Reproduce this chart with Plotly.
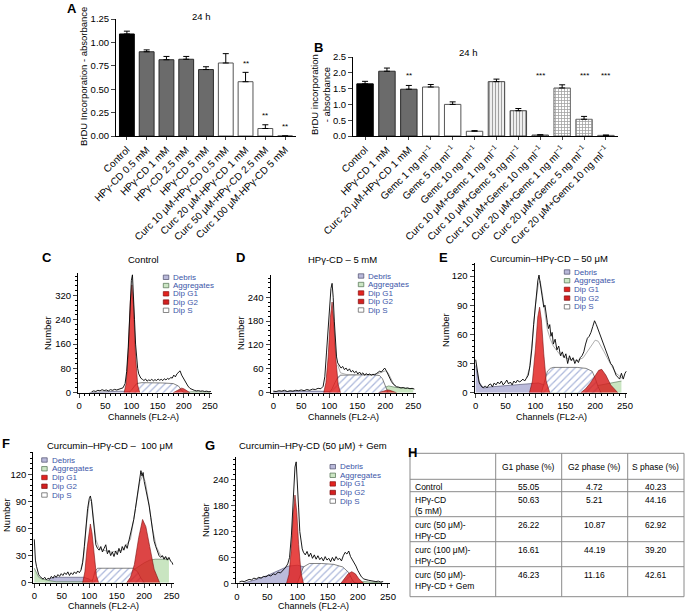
import plotly.graph_objects as go

W, H = 685, 613
FONT = "Liberation Sans"

# ---------------- panel A ----------------
a_labels = ["Control", "HPγ-CD 0.5 mM", "HPγ-CD 1 mM", "HPγ-CD 2.5 mM", "HPγ-CD 5 mM",
            "Curc 10 μM-HPγ-CD 0.5 mM", "Curc 20 μM-HPγ-CD 1 mM",
            "Curc 50 μM-HPγ-CD 2.5 mM", "Curc 100 μM-HPγ-CD 5 mM"]
a_group = ["control", "hp", "hp", "hp", "hp", "curc", "curc", "curc", "curc"]
a_vals = [1.09, 0.90, 0.815, 0.82, 0.71, 0.78, 0.58, 0.08, 0.0]
a_err = [0.03, 0.02, 0.035, 0.03, 0.03, 0.10, 0.10, 0.04, 0.0]
a_sig = ["", "", "", "", "", "", "**", "**", "**"]

# ---------------- panel B ----------------
b_labels = ["Control", "HPγ-CD 1 mM", "Curc 20 μM-HPγ-CD 1 mM",
            "Gemc 1 ng ml<sup>−1</sup>", "Gemc 5 ng ml<sup>−1</sup>", "Gemc 10 ng ml<sup>−1</sup>",
            "Curc 10 μM+Gemc 1 ng ml<sup>−1</sup>", "Curc 10 μM+Gemc 5 ng ml<sup>−1</sup>",
            "Curc 10 μM+Gemc 10 ng ml<sup>−1</sup>", "Curc 20 μM+Gemc 1 ng ml<sup>−1</sup>",
            "Curc 20 μM+Gemc 5 ng ml<sup>−1</sup>", "Curc 20 μM+Gemc 10 ng ml<sup>−1</sup>"]
b_group = ["control", "hp", "hp", "gem", "gem", "gem", "c10", "c10", "c10", "c20", "c20", "c20"]
b_vals = [1.65, 2.05, 1.48, 1.55, 1.00, 0.15, 1.72, 0.80, 0.03, 1.52, 0.53, 0.02]
b_err = [0.08, 0.10, 0.12, 0.08, 0.08, 0.02, 0.08, 0.07, 0.01, 0.10, 0.09, 0.01]
b_sig = ["", "", "**", "", "", "", "", "", "***", "", "***", "***"]

# ---------------- panel C : Control ----------------
c_raw_x = [24, 28, 32, 36, 40, 44, 48, 52, 56, 60, 64, 68, 72, 76, 80, 84, 88, 91, 94, 97, 100, 102, 104,
           106, 108, 110, 112, 114, 116, 118, 121, 124, 127, 130, 133, 136, 139, 142, 145, 148, 151, 154,
           157, 160, 163, 166, 169, 172, 175, 178, 181, 184, 187, 190, 193, 196, 199, 202, 205, 208, 212,
           216, 220, 224, 228, 232, 236, 240, 244, 248, 252]
c_raw_y = [3, 6, 4, 8, 6, 10, 7, 9, 6, 10, 8, 11, 9, 12, 14, 16, 30, 70, 150, 270, 370, 388, 330,
           240, 160, 110, 80, 62, 52, 48, 44, 40, 45, 38, 42, 40, 44, 39, 43, 40, 45, 41,
           44, 40, 46, 42, 47, 44, 50, 48, 58, 52, 62, 68, 72, 58, 48, 40, 30, 22, 14,
           10, 8, 6, 7, 5, 6, 4, 5, 3, 4]
c_g1_x = [86, 90, 94, 98, 101, 104, 108, 112, 116]
c_g1_y = [0, 30, 130, 300, 355, 290, 120, 25, 0]
c_g2_x = [180, 186, 192, 196, 200, 206, 212]
c_g2_y = [0, 6, 13, 15, 13, 6, 0]
c_s_x = [95, 100, 105, 110, 120, 140, 160, 180, 190, 195, 200]
c_s_y = [0, 8, 20, 30, 33, 33, 32, 30, 22, 10, 0]
c_deb_x = [20, 40, 60, 80, 95, 110]
c_deb_y = [0, 3, 4, 5, 4, 0]
c_agg_x = [200, 215, 230, 250]
c_agg_y = [0, 3, 3, 2]
c_marks = [101, 195]

# ---------------- panel D : HPγ-CD 5 mM ----------------
d_raw_x = [0, 5, 10, 15, 20, 25, 30, 35, 40, 45, 50, 55, 60, 65, 70, 75, 80, 85, 89, 92, 95, 98, 101,
           103, 105, 107, 109, 111, 113, 115, 118, 121, 124, 127, 130, 133, 136, 139, 142, 145, 148,
           151, 154, 157, 160, 163, 166, 169, 172, 175, 178, 181, 184, 187, 190, 193, 196, 199, 202,
           205, 208, 211, 214, 217, 220, 224, 228, 232, 236, 240, 244, 248, 252]
d_raw_y = [4, 3, 5, 4, 6, 3, 5, 4, 6, 5, 7, 5, 8, 6, 9, 8, 11, 10, 16, 40, 100, 170, 230,
           262, 275, 240, 180, 120, 90, 75, 68, 62, 66, 58, 62, 55, 60, 52, 56, 50, 54,
           47, 52, 46, 50, 44, 48, 45, 47, 44, 46, 45, 48, 50, 54, 52, 58, 62, 55,
           45, 35, 28, 22, 18, 15, 14, 12, 13, 11, 12, 10, 11, 9]
d_g1_x = [90, 94, 98, 102, 105, 108, 112, 116, 120]
d_g1_y = [0, 25, 90, 190, 228, 180, 80, 20, 0]
d_g2_x = [188, 194, 200, 204, 208, 214, 220]
d_g2_y = [0, 3, 6, 7, 6, 3, 0]
d_s_x = [100, 105, 110, 115, 120, 140, 160, 180, 190, 195, 200, 205]
d_s_y = [0, 10, 25, 38, 44, 45, 45, 45, 43, 35, 15, 0]
d_deb_x = [0, 20, 40, 60, 80, 100, 120]
d_deb_y = [2, 3, 3, 4, 4, 3, 0]
d_agg_x = [190, 196, 202, 206, 212, 220, 230, 240, 250]
d_agg_y = [0, 8, 15, 17, 15, 13, 12, 11, 10]
d_fit_x = [115, 120, 130, 150, 170, 185, 195, 200, 205, 210, 215, 220]
d_fit_y = [70, 50, 46, 45, 45, 47, 52, 55, 50, 35, 22, 15]
d_marks = [105, 203]

# ---------------- panel E : Curcumin-HPγ-CD 50 μM ----------------
e_raw_x = [0, 1, 2, 4, 6, 8, 10, 13, 16, 19, 22, 25, 28, 31, 34, 37, 40, 43, 46, 49, 52, 55, 58, 61,
           64, 67, 70, 73, 76, 79, 82, 85, 88, 91, 94, 97, 100, 102, 104, 106, 108, 110, 112, 114,
           116, 118, 120, 122, 124, 126, 128, 130, 133, 136, 139, 142, 145, 148, 151, 154, 157, 160,
           163, 166, 169, 172, 175, 178, 181, 184, 187, 190, 193, 196, 199, 202, 205, 208, 211, 214,
           217, 220, 223, 226, 229, 232, 235, 238, 241, 244, 247, 250, 252]
e_raw_y = [34, 30, 24, 16, 10, 8, 6, 5, 7, 5, 8, 9, 6, 10, 8, 11, 9, 12, 8, 10, 13, 9, 11, 8,
           12, 10, 13, 11, 12, 14, 12, 15, 18, 28, 45, 70, 90, 100, 115, 121, 112, 104, 96, 88,
           90, 78, 72, 66, 70, 58, 62, 50, 55, 44, 48, 38, 42, 36, 40, 30, 38, 33,
           36, 30, 34, 31, 36, 38, 42, 50, 56, 58, 62, 68, 74, 70, 65, 60, 55, 50,
           44, 40, 36, 30, 28, 22, 18, 16, 14, 20, 14, 20, 22]
e_g1_x = [90, 95, 100, 104, 107, 110, 114, 118, 124]
e_g1_y = [0, 12, 45, 78, 88, 75, 40, 12, 0]
e_g2_x = [176, 184, 192, 200, 206, 211, 218, 226, 238]
e_g2_y = [0, 4, 10, 18, 23, 24, 18, 8, 0]
e_s_x = [110, 115, 120, 125, 130, 150, 170, 185, 195, 200, 205, 210]
e_s_y = [0, 12, 22, 25, 26, 26, 26, 25, 22, 15, 6, 0]
e_deb_x = [0, 2, 5, 10, 15, 25, 45, 65, 85, 95, 105, 120, 140, 160, 180, 200]
e_deb_y = [28, 20, 12, 7, 5, 6, 7, 8, 9, 10, 10, 7, 6, 5, 3, 0]
e_agg_x = [110, 130, 150, 170, 190, 210, 225, 235, 242, 244]
e_agg_y = [0, 3, 4, 5, 6, 8, 10, 11, 12, 12]
e_fit_x = [85, 90, 95, 100, 105, 108, 112, 116, 120, 125, 130, 140, 150, 160, 170, 180, 190, 195,
           200, 205, 210, 215, 220, 225, 230, 235, 240, 245]
e_fit_y = [15, 25, 55, 90, 112, 115, 100, 80, 65, 55, 48, 40, 36, 34, 33, 36, 45, 50,
           54, 53, 48, 42, 36, 30, 25, 20, 17, 15]
e_marks = [107, 205]

# ---------------- panel F : Curcumin-HPγ-CD 100 μM ----------------
f_raw_x = [0, 1, 2, 4, 6, 8, 10, 13, 16, 19, 22, 25, 28, 31, 34, 37, 40, 43, 46, 49, 52, 55, 58, 61,
           64, 67, 70, 73, 76, 79, 82, 85, 88, 91, 94, 97, 100, 102, 104, 106, 108, 110, 112, 115,
           118, 121, 124, 127, 130, 133, 136, 139, 142, 145, 148, 151, 154, 157, 160, 163, 166, 169,
           172, 175, 178, 181, 184, 187, 190, 192, 194, 196, 198, 200, 203, 206, 209, 212, 215, 218,
           221, 224, 227, 230, 233, 236, 239, 242, 245, 248, 251, 252]
f_raw_y = [48, 35, 25, 18, 12, 9, 7, 5, 4, 6, 3, 5, 4, 7, 5, 8, 6, 9, 7, 10, 8, 11, 9, 12,
           8, 11, 9, 12, 10, 13, 11, 14, 22, 40, 62, 82, 93, 96, 90, 78, 62, 50, 42, 38,
           36, 40, 34, 38, 42, 32, 36, 30, 34, 29, 35, 31, 38, 33, 40, 36, 42, 38,
           46, 52, 60, 70, 82, 95, 108, 115, 124, 118, 122, 112, 104, 95, 85, 72, 58, 46,
           40, 34, 30, 28, 30, 26, 29, 25, 28, 24, 22, 20]
f_g1_x = [88, 92, 96, 100, 102, 105, 109, 113, 117]
f_g1_y = [0, 12, 38, 60, 65, 55, 30, 8, 0]
f_g2_x = [168, 175, 182, 190, 197, 203, 210, 218, 228]
f_g2_y = [0, 6, 20, 50, 70, 62, 40, 15, 0]
f_s_x = [105, 110, 115, 150, 180, 188, 194, 200]
f_s_y = [0, 12, 16, 16, 16, 12, 5, 0]
f_deb_x = [20, 30, 40, 60, 80, 90, 100, 108]
f_deb_y = [0, 5, 6, 6, 6, 6, 4, 0]
f_agg_x = [0, 4, 8, 14, 20, 30, 40, 100, 110, 130, 150, 170, 185, 200, 210, 220, 230, 240, 245]
f_agg_y = [16, 10, 6, 4, 3, 2, 1, 1, 5, 8, 10, 12, 16, 22, 25, 26, 26, 26, 26]
f_fit_x = [85, 90, 95, 100, 104, 108, 112, 118, 125, 140, 160, 175, 185, 192, 197, 202, 208, 215,
           222, 230, 240, 245]
f_fit_y = [15, 30, 65, 90, 92, 70, 48, 38, 36, 34, 36, 48, 85, 112, 118, 112, 90, 60,
           40, 30, 27, 27]
f_marks = [45, 103, 195]

# ---------------- panel G : Curcumin-HPγ-CD (50 μM) + Gem ----------------
g_raw_x = [4, 8, 12, 16, 20, 24, 28, 32, 36, 40, 44, 48, 52, 56, 60, 64, 68, 72, 76, 80, 84, 87, 90,
           92, 94, 96, 98, 100, 102, 104, 106, 108, 110, 113, 116, 119, 122, 125, 128, 131, 134, 137,
           140, 143, 146, 149, 152, 155, 158, 161, 164, 167, 170, 173, 176, 179, 182, 185, 188, 191,
           194, 197, 200, 203, 206, 210, 214, 218, 222, 226, 230, 234, 238, 242]
g_raw_y = [3, 5, 4, 7, 9, 8, 12, 10, 14, 12, 16, 15, 19, 17, 22, 20, 26, 24, 30, 36, 45, 60, 110,
           160, 215, 270, 282, 240, 175, 120, 92, 80, 72, 66, 74, 62, 70, 58, 66, 56, 64, 55,
           60, 52, 62, 54, 58, 50, 60, 52, 62, 55, 58, 52, 64, 72, 68, 75, 62, 55,
           48, 40, 30, 22, 15, 10, 8, 7, 6, 5, 4, 5, 3, 4]
g_g1_x = [82, 86, 90, 93, 96, 99, 102, 106, 110]
g_g1_y = [0, 20, 80, 160, 205, 165, 90, 25, 0]
g_g2_x = [172, 178, 184, 190, 196, 202, 210]
g_g2_y = [0, 10, 22, 27, 22, 10, 0]
g_s_x = [100, 105, 110, 120, 140, 160, 175, 185, 190, 195]
g_s_y = [0, 20, 38, 46, 46, 44, 38, 25, 10, 0]
g_deb_x = [10, 30, 50, 70, 85, 100, 120, 140, 160, 180, 200]
g_deb_y = [0, 8, 18, 30, 40, 42, 35, 25, 15, 8, 0]
g_agg_x = [200, 210, 220, 230, 240]
g_agg_y = [0, 4, 3, 2, 1]
g_marks = [96]

# ---------------- panel H : table ----------------
h_header = ["G1 phase (%)", "G2 phase (%)", "S phase (%)"]
h_rows = ["Control", "HPγ-CD<br>(5 mM)", "curc (50 μM)-<br>HPγ-CD", "curc (100 μM)-<br>HPγ-CD",
          "curc (50 μM)-<br>HPγ-CD + Gem"]
h_g1 = ["55.05", "50.63", "26.22", "16.61", "46.23"]
h_g2 = ["4.72", "5.21", "10.87", "44.19", "11.16"]
h_s = ["40.23", "44.16", "62.92", "39.20", "42.61"]

leg_names = ["Debris", "Aggregates", "Dip G1", "Dip G2", "Dip S"]


def fx(v):
    return v / W


def fy(v):
    return 1 - v / H


fig = go.Figure()
shapes = []
annos = []
axes = {}


def txt(x, y, text, size=9, xa="center", ya="middle", color="black", angle=0, bold=False):
    if bold:
        text = "<b>" + text + "</b>"
    annos.append(dict(x=fx(x), y=fy(y), xref="paper", yref="paper", text=text, showarrow=False,
                      xanchor=xa, yanchor=ya, textangle=angle, align=xa if xa != "center" else "center",
                      font=dict(family=FONT, size=size, color=color)))


bar_style = {
    "control": dict(fill="black", line="black", shape="", fg="black"),
    "hp": dict(fill="#6b6b6b", line="#2a2a2a", shape="", fg="#6b6b6b"),
    "curc": dict(fill="white", line="#555555", shape="", fg="white"),
    "gem": dict(fill="white", line="#555555", shape="", fg="white"),
    "c10": dict(fill="white", line="#444444", shape="|", fg="#707070"),
    "c20": dict(fill="white", line="#666666", shape="+", fg="#b0b0b0"),
}


def bars(idx, labels, groups, vals, errs, sig, xdom, ydom, yr, dtick, fmt, sig_y):
    xa = "x" if idx == 1 else "x%d" % idx
    ya = "y" if idx == 1 else "y%d" % idx
    st = [bar_style[g] for g in groups]
    fig.add_trace(go.Bar(
        x=labels, y=vals, xaxis=xa, yaxis=ya, width=0.75,
        marker=dict(color=[s["fill"] for s in st], line=dict(color=[s["line"] for s in st], width=1),
                    pattern=dict(shape=[s["shape"] for s in st], fgcolor=[s["fg"] for s in st],
                                 bgcolor=[s["fill"] for s in st], size=3, solidity=0.45)),
        error_y=dict(type="data", symmetric=False, array=errs, arrayminus=[0] * len(errs),
                     color="black", thickness=1, width=3)))
    axes["xaxis" + ("" if idx == 1 else str(idx))] = dict(
        domain=[fx(xdom[0]), fx(xdom[1])], anchor=ya, type="category", automargin=False,
        range=[-0.55, len(labels) - 0.45], showline=True, linecolor="black", linewidth=1,
        ticks="outside", ticklen=3, tickangle=-45, showgrid=False,
        tickfont=dict(family=FONT, size=10, color="black"))
    axes["yaxis" + ("" if idx == 1 else str(idx))] = dict(
        domain=[fy(ydom[1]), fy(ydom[0])], anchor=xa, range=yr, dtick=dtick, tickformat=fmt,
        showline=True, linecolor="black", linewidth=1, ticks="outside", ticklen=4, automargin=False,
        showgrid=False, zeroline=False, tickfont=dict(family=FONT, size=9.5, color="black"))
    for lab, v, e, s in zip(labels, vals, errs, sig):
        if s:
            yy = sig_y if sig_y is not None else v + e + 0.03
            annos.append(dict(x=lab, y=yy, xref=xa, yref=ya, text=s, showarrow=False,
                              yanchor="bottom", font=dict(family=FONT, size=8, color="black")))


bars(1, a_labels, a_group, a_vals, a_err, a_sig, (116, 296), (19, 136), [0, 1.25], 0.25, ".2f", None)
bars(2, b_labels, b_group, b_vals, b_err, b_sig, (353, 618), (57, 136), [0, 2.5], 0.5, ".1f", 1.72)

txt(72, 8, "A", 13, bold=True)
txt(201, 17, "24 h", 9.5)
txt(83, 77, "BrDU Incorporation - absorbance", 9.5, angle=-90)
txt(318, 47, "B", 13, bold=True)
txt(468, 52, "24 h", 9.5)
txt(321, 95, "BrDU incorporation<br>- absorbance", 9.5, angle=-90)

comp_style = {
    "deb": dict(fill="rgba(180,180,215,0.9)", line="#4a4a6a"),
    "agg": dict(fill="rgba(198,228,190,0.95)", line="#4f6f4f"),
    "g1": dict(fill="rgba(226,30,28,0.82)", line="#7a1010"),
    "g2": dict(fill="rgba(214,28,28,0.82)", line="#7a1010"),
}


def flow(idx, xdom, ydom, yr, ymaj, ymin, raw, comps, s_comp, fit, marks):
    xa, ya = "x%d" % idx, "y%d" % idx
    for key in ["deb", "agg"]:
        cx, cy = comps[key]
        fig.add_trace(go.Scatter(x=cx, y=cy, xaxis=xa, yaxis=ya, mode="lines", fill="tozeroy",
                                 fillcolor=comp_style[key]["fill"],
                                 line=dict(color=comp_style[key]["line"], width=0.6)))
    sx, sy = s_comp
    fig.add_trace(go.Scatter(x=sx, y=sy, xaxis=xa, yaxis=ya, mode="lines", fill="tozeroy",
                             fillcolor="white",
                             fillpattern=dict(shape="/", fgcolor="#5a72b8", bgcolor="white",
                                              size=5, solidity=0.25),
                             line=dict(color="#333333", width=0.6)))
    for key in ["g1", "g2"]:
        cx, cy = comps[key]
        fig.add_trace(go.Scatter(x=cx, y=cy, xaxis=xa, yaxis=ya, mode="lines", fill="tozeroy",
                                 fillcolor=comp_style[key]["fill"],
                                 line=dict(color=comp_style[key]["line"], width=0.6)))
    if fit is not None:
        fig.add_trace(go.Scatter(x=fit[0], y=fit[1], xaxis=xa, yaxis=ya, mode="lines",
                                 line=dict(color="#9a9a9a", width=0.8)))
    fig.add_trace(go.Scatter(x=raw[0], y=raw[1], xaxis=xa, yaxis=ya, mode="lines",
                             line=dict(color="black", width=0.9)))
    off = 4.0 * (yr[1] - yr[0]) / (ydom[1] - ydom[0])
    fig.add_trace(go.Scatter(x=marks, y=[-off] * len(marks), xaxis=xa, yaxis=ya, mode="markers",
                             cliponaxis=False,
                             marker=dict(symbol="triangle-up", size=6, color="black")))
    axes["xaxis%d" % idx] = dict(
        domain=[fx(xdom[0]), fx(xdom[1])], anchor=ya, range=[-2, 254] if idx != 4 else [-5, 254],
        tickvals=[0, 50, 100, 150, 200, 250], showline=True, linecolor="black", linewidth=1,
        ticks="outside", ticklen=4, showgrid=False, zeroline=False, automargin=False,
        minor=dict(dtick=10, ticklen=2, ticks="outside", tickcolor="black"),
        tickfont=dict(family=FONT, size=9.5, color="black"))
    axes["yaxis%d" % idx] = dict(
        domain=[fy(ydom[1]), fy(ydom[0])], anchor=xa, range=yr, dtick=ymaj,
        showline=True, linecolor="black", linewidth=1, ticks="outside", ticklen=4,
        showgrid=False, zeroline=False, automargin=False,
        minor=dict(dtick=ymin, ticklen=2, ticks="outside", tickcolor="black"),
        tickfont=dict(family=FONT, size=9.5, color="black"))


def legend(xi, y0, dy):
    fills = ["#b9b9d9", "#cce6c4", "#e3231f", "#d42020", "white"]
    lines = ["#4a4a6a", "#4f6f4f", "#8a1010", "#7a0d0d", "#555555"]
    for k, name in enumerate(leg_names):
        y = y0 + k * dy
        shapes.append(dict(type="rect", xref="paper", yref="paper", x0=fx(xi), x1=fx(xi + 5.5),
                           y0=fy(y + 2.2), y1=fy(y - 2.2), fillcolor=fills[k],
                           line=dict(color=lines[k], width=0.7)))
        txt(xi + 8, y, name, 8, xa="left", color="#3b55a8")


flow(3, (78, 212), (272.7, 392.7), [0, 395], 80, 16, (c_raw_x, c_raw_y),
     {"deb": (c_deb_x, c_deb_y), "agg": (c_agg_x, c_agg_y), "g1": (c_g1_x, c_g1_y),
      "g2": (c_g2_x, c_g2_y)}, (c_s_x, c_s_y), None, c_marks)
flow(4, (270.5, 415.5), (275.4, 392.7), [0, 295], 60, 12, (d_raw_x, d_raw_y),
     {"deb": (d_deb_x, d_deb_y), "agg": (d_agg_x, d_agg_y), "g1": (d_g1_x, d_g1_y),
      "g2": (d_g2_x, d_g2_y)}, (d_s_x, d_s_y), (d_fit_x, d_fit_y), d_marks)
flow(5, (474.5, 627.4), (263.4, 392.7), [0, 133], 30, 6, (e_raw_x, e_raw_y),
     {"deb": (e_deb_x, e_deb_y), "agg": (e_agg_x, e_agg_y), "g1": (e_g1_x, e_g1_y),
      "g2": (e_g2_x, e_g2_y)}, (e_s_x, e_s_y), (e_fit_x, e_fit_y), e_marks)
flow(6, (33.2, 173.9), (451.7, 582.7), [0, 145], 30, 6, (f_raw_x, f_raw_y),
     {"deb": (f_deb_x, f_deb_y), "agg": (f_agg_x, f_agg_y), "g1": (f_g1_x, f_g1_y),
      "g2": (f_g2_x, f_g2_y)}, (f_s_x, f_s_y), (f_fit_x, f_fit_y), f_marks)
flow(7, (235.8, 390.4), (456.7, 583.3), [0, 294], 60, 12, (g_raw_x, g_raw_y),
     {"deb": (g_deb_x, g_deb_y), "agg": (g_agg_x, g_agg_y), "g1": (g_g1_x, g_g1_y),
      "g2": (g_g2_x, g_g2_y)}, (g_s_x, g_s_y), None, g_marks)

legend(163.3, 277.3, 8.25)
legend(358.3, 276, 8.5)
legend(564.3, 272, 8.7)
legend(41.7, 460, 8.75)
legend(330, 466.7, 8.6)

# panel letters, titles, axis titles
txt(47, 257, "C", 13, bold=True)
txt(143, 259, "Control", 9.5)
txt(240, 257, "D", 13, bold=True)
txt(342, 259, "HPγ-CD – 5 mM", 9.5)
txt(443, 257, "E", 13, bold=True)
txt(549, 258, "Curcumin–HPγ-CD – 50 μM", 9.5)
txt(6, 443, "F", 13, bold=True)
txt(110, 445, "Curcumin–HPγ-CD –  100 μM", 9.5)
txt(210, 445, "G", 13, bold=True)
txt(313, 445, "Curcumin–HPγ-CD (50 μM) + Gem", 9.5)
txt(413, 452, "H", 13, bold=True)
for x, y in [(143, 417), (343, 417), (551, 417), (103, 606), (313, 606)]:
    txt(x, y, "Channels (FL2-A)", 9)
for x, y in [(47, 333), (240, 333), (445, 330), (6, 515), (205, 520)]:
    txt(x, y, "Number", 9.5, angle=-90)

# table H
tx = [410, 495.7, 561.7, 627.7, 684]
ty = [453.3, 479.3, 491.7, 516.7, 541.7, 566.7, 596.7]
for x in tx:
    shapes.append(dict(type="line", xref="paper", yref="paper", x0=fx(x), x1=fx(x),
                       y0=fy(ty[0]), y1=fy(ty[-1]), line=dict(color="#8a8a8a", width=1)))
for y in ty:
    shapes.append(dict(type="line", xref="paper", yref="paper", x0=fx(tx[0]), x1=fx(tx[-1]),
                       y0=fy(y), y1=fy(y), line=dict(color="#8a8a8a", width=1)))
col_c = [(tx[i] + tx[i + 1]) / 2 for i in range(1, 4)]
for c, h in zip(col_c, h_header):
    txt(c, 467, h, 8.5)
row_y = [479.3, 491.7, 516.7, 541.7, 566.7]
for k in range(len(h_rows)):
    y = row_y[k] + 1
    txt(413, y, h_rows[k], 8.5, xa="left", ya="top")
    for c, val in zip(col_c, [h_g1[k], h_g2[k], h_s[k]]):
        txt(c, y, val, 8.5, ya="top")

fig.update_layout(width=W, height=H, margin=dict(l=0, r=0, t=0, b=0), showlegend=False,
                  paper_bgcolor="white", plot_bgcolor="white", bargap=0.2,
                  font=dict(family=FONT, size=9, color="black"),
                  shapes=shapes, annotations=annos, **axes)
fig.write_html("out.html", config={"displayModeBar": False},
               post_script="document.body.style.margin='0';")
